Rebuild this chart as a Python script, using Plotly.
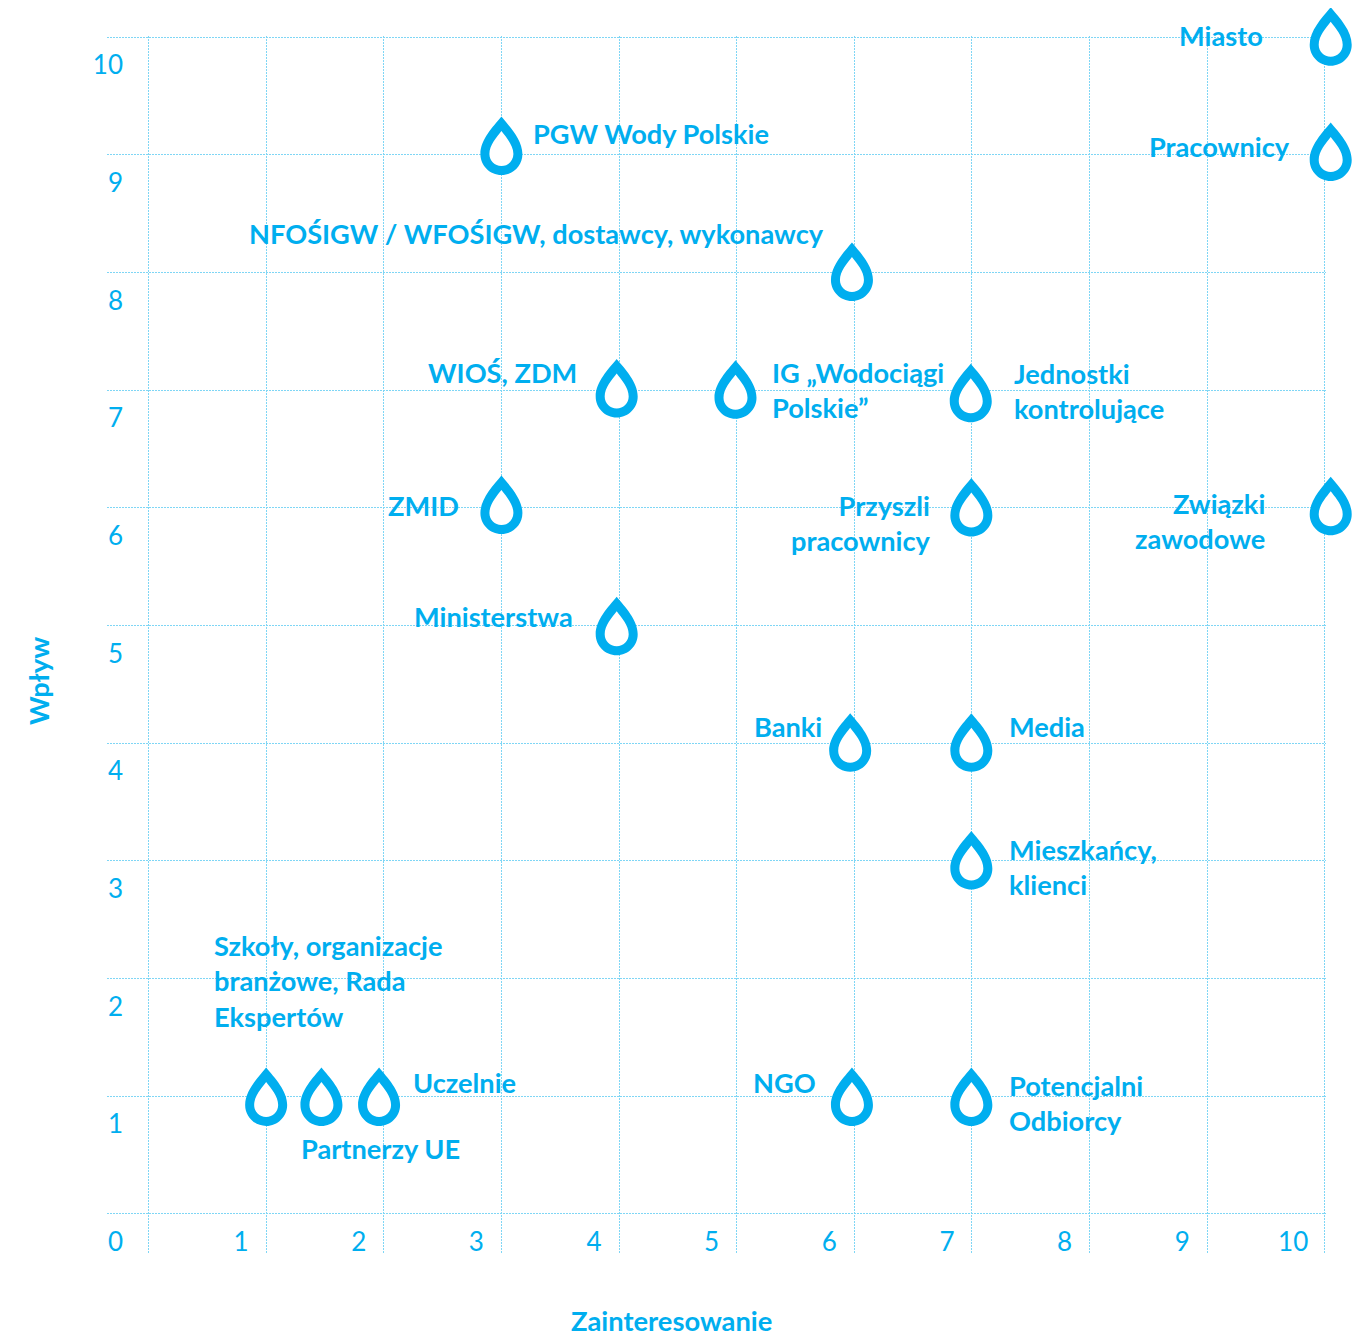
import plotly.graph_objects as go

names = ["Miasto", "Pracownicy", "PGW Wody Polskie", "NFOŚIGW / WFOŚIGW, dostawcy, wykonawcy",
         "WIOŚ, ZDM", "IG „Wodociągi<br>Polskie”", "Jednostki<br>kontrolujące", "ZMID",
         "Przyszli<br>pracownicy", "Związki<br>zawodowe", "Ministerstwa", "Banki", "Media",
         "Mieszkańcy,<br>klienci", "Szkoły, organizacje<br>branżowe, Rada<br>Ekspertów",
         "Partnerzy UE", "Uczelnie", "NGO", "Potencjalni<br>Odbiorcy"]
zainteresowanie = [10.05, 10.05, 3.0, 5.98, 3.98, 4.99, 6.99, 3.0, 6.995, 10.05, 3.98, 5.965, 6.995, 6.995,
                   1.0, 1.47, 1.96, 5.98, 6.995]
wplyw = [10.0, 9.02, 9.07, 8.0, 7.01, 7.0, 6.97, 6.02, 6.0, 6.01, 4.99, 4.0, 4.0, 3.0,
         0.99, 0.99, 0.99, 0.99, 0.99]
x_ticks = list(range(0, 11))
y_ticks = list(range(0, 11))
x_ticktext = ["", "1", "2", "3", "4", "5", "6", "7", "8", "9", "10\u00a0\u00a0"]
y_ticktext = [str(v) for v in y_ticks]

# label placement: (text anchor, pixel offset right, pixel offset down) from each drop's centre
label_place = [("right", -65.5, -2), ("right", -38.5, -6), ("left", 29.5, -13), ("right", -26, -39),
               ("right", -37.5, -17), ("left", 35, 0), ("left", 41, -3), ("right", -40.5, 0),
               ("right", -38.5, 15), ("right", -63.5, 14), ("right", -41.5, -10), ("right", -26.5, -17),
               ("left", 35.5, -17), ("left", 35.5, 6), ("left", -54, -116),
               ("left", -22, 51), ("left", 32, -15), ("right", -33.5, -15), ("left", 35.5, 6)]

BLUE = "#00aeef"
GRID = "#7fd6f5"
FONT = "Lato"
X_RANGE = [-0.353, 10.01]
Y_RANGE = [-0.34, 10.01]
PLOT_W = 1218.7
PLOT_H = 1218.2


def drop_path(tip, cy, r):
    k = 0.5523 * r
    h = tip - cy
    return (f"M 0 {tip} "
            f"C {r*0.4:.2f} {tip-h*0.27:.2f} {r} {cy+h*0.38:.2f} {r} {cy} "
            f"C {r} {cy-k:.2f} {k:.2f} {cy-r} 0 {cy-r} "
            f"C {-k:.2f} {cy-r} {-r} {cy-k:.2f} {-r} {cy} "
            f"C {-r} {cy+h*0.38:.2f} {-r*0.4:.2f} {tip-h*0.27:.2f} 0 {tip} Z")


OUTER = drop_path(30, -7.5, 21)
INNER = drop_path(15.5, -7.5, 12)

fig = go.Figure()
fig.add_trace(go.Scatter(
    x=zainteresowanie, y=wplyw, mode="markers", cliponaxis=False,
    marker=dict(size=40, color="rgba(0,0,0,0)"),
    text=[n.replace("<br>", " ") for n in names],
    hovertemplate="%{text}<extra></extra>", showlegend=False))

shapes = []
annotations = []
for name, xv, yv, (anchor, dx, dy) in zip(names, zainteresowanie, wplyw, label_place):
    px = (xv - X_RANGE[0]) / (X_RANGE[1] - X_RANGE[0])
    py = (yv - Y_RANGE[0]) / (Y_RANGE[1] - Y_RANGE[0])
    for path, color in ((OUTER, BLUE), (INNER, "white")):
        shapes.append(dict(type="path", path=path, xref="paper", yref="paper",
                           xsizemode="pixel", ysizemode="pixel", xanchor=px, yanchor=py,
                           fillcolor=color, line=dict(width=0), layer="above"))
    annotations.append(dict(
        x=px, y=py, xref="paper", yref="paper", text=name, showarrow=False,
        xanchor=anchor, yanchor="middle", align=anchor, xshift=dx, yshift=-dy,
        font=dict(family=FONT, size=27.2, color=BLUE, weight=700)))

annotations.append(dict(text="Zainteresowanie", x=(671 - 107) / PLOT_W, y=-(1321 - 1254) / PLOT_H,
                        xref="paper", yref="paper", showarrow=False, xanchor="center", yanchor="middle",
                        font=dict(family=FONT, size=27.3, color=BLUE, weight=700)))
annotations.append(dict(text="Wpływ", textangle=-90, x=(38 - 107) / PLOT_W, y=(1254 - 681) / PLOT_H,
                        xref="paper", yref="paper", showarrow=False, xanchor="center", yanchor="middle",
                        font=dict(family=FONT, size=27.3, color=BLUE, weight=700)))

axis_common = dict(showgrid=True, gridcolor=GRID, griddash="2px,1px", gridwidth=1, zeroline=False,
                   showline=False, ticks="", tickfont=dict(family=FONT, size=26, color=BLUE),
                   tickmode="array", fixedrange=True)
fig.update_layout(
    width=1359, height=1327, autosize=False,
    margin=dict(l=99, r=41.3, t=27.8, b=81, pad=0),
    paper_bgcolor="white", plot_bgcolor="white",
    shapes=shapes, annotations=annotations, showlegend=False,
    xaxis=dict(range=X_RANGE, tickvals=x_ticks, ticktext=x_ticktext,
               ticklabelshift=-25, ticklabelstandoff=-30, **axis_common),
    yaxis=dict(range=Y_RANGE, tickvals=y_ticks, ticktext=y_ticktext,
               ticklabelshift=28, ticklabelstandoff=-17, **axis_common),
)
fig.write_html("out.html", config=dict(displayModeBar=False))
